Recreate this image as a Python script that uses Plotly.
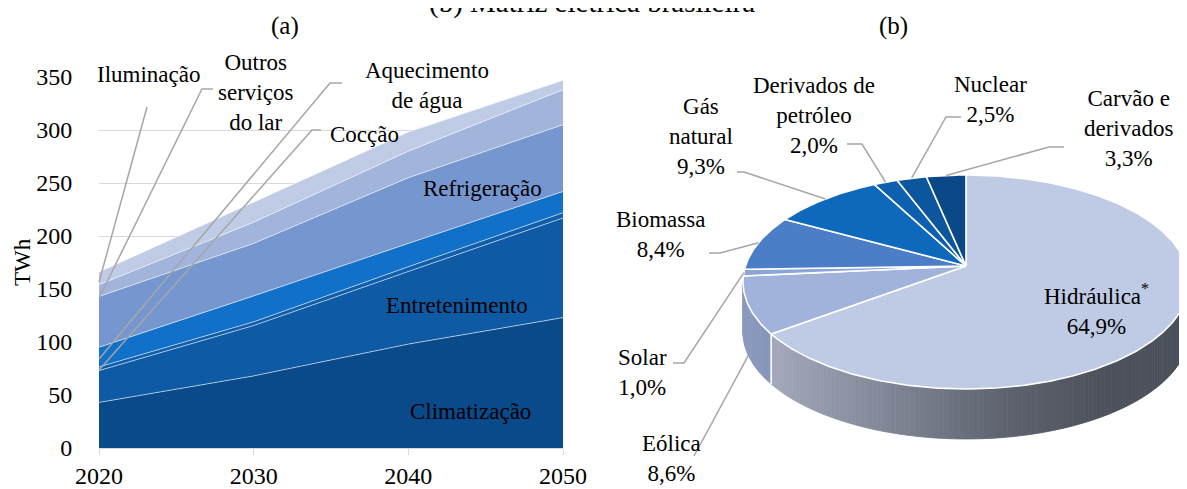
import numpy as np
import plotly.graph_objects as go

# ------------------------------------------------------------------ data
years = [2020, 2030, 2040, 2050]
climatizacao = [43, 68, 98, 123]
entretenimento = [30, 47.5, 68.5, 94]
coccao = [3.5, 3.5, 4.5, 5]
aquecimento_agua = [18.5, 24.5, 22, 20]
refrigeracao = [48, 49.5, 62, 63]
outros_servicos = [11, 20, 25, 33]
iluminacao = [12, 19, 18, 9]
y_ticks = [0, 50, 100, 150, 200, 250, 300, 350]

area_names = ["Climatização", "Entretenimento", "Cocção", "Aquecimento de água",
              "Refrigeração", "Outros serviços do lar", "Iluminação"]
area_series = [climatizacao, entretenimento, coccao, aquecimento_agua,
               refrigeracao, outros_servicos, iluminacao]

pie_names = ["Hidráulica", "Eólica", "Solar", "Biomassa", "Gás natural",
             "Derivados de petróleo", "Nuclear", "Carvão e derivados"]
pie_shares = [64.9, 8.6, 1.0, 8.4, 9.3, 2.0, 2.5, 3.3]
pie_label_lines = ["Hidráulica<sup>*</sup>", "Eólica", "Solar", "Biomassa", "Gás<br>natural",
                   "Derivados de<br>petróleo", "Nuclear", "Carvão e<br>derivados"]

# ------------------------------------------------------------------ style / layout
W, H = 1187, 489
OFF = 8                       # page body margin of the html page
FONT = "Liberation Serif"
FS = 23
GRID = "#d9d9d9"
LEADER = "#a6a6a6"

area_colors = ["#0A4A8A", "#0E5AA4", "#0F5EAC", "#1170C8", "#7696D0", "#A1B4DC", "#C0CCE6"]
pie_colors = ["#BFCBE4", "#A1B3DA", "#8CA5D8", "#4C7EC7", "#0E68BC", "#0D60B0", "#0C569E", "#0A4887"]

L0, L1, T0, B0 = 99, 563, 77, 448          # left plot area in screen px


def px(x):
    return (x - OFF) / W


def py(y):
    return 1 - (y - OFF) / H


fig = go.Figure()

# ------------------------------------------------------------------ (a) stacked area
for name, vals, col in zip(area_names, area_series, area_colors):
    fig.add_trace(go.Scatter(
        x=years, y=vals, name=name, stackgroup="uso", mode="lines",
        line=dict(color="rgba(255,255,255,0.75)", width=0.75),
        fillcolor=col, xaxis="x", yaxis="y", showlegend=False))

left_labels = [
    ("Iluminação", 148, 75),
    ("Outros<br>serviços<br>do lar", 255, 93),
    ("Aquecimento<br>de água", 427, 86),
    ("Cocção", 364, 134),
    ("Refrigeração", 482, 188),
    ("Entretenimento", 457, 305),
    ("Climatização", 470, 411),
]
left_leaders = [
    [(147, 107), (99, 282)],
    [(213, 89), (202, 89), (99, 298)],
    [(342, 83), (330, 83), (99, 359)],
    [(321, 130), (312, 130), (99, 370)],
]

# ------------------------------------------------------------------ (b) 3D pie
P_CX, P_CY, P_A, P_B, P_K, P_DEPTH = 966, 266, 220.5, 104.6, 0.1495, 50


def rim(alpha_deg, drop=0.0):
    a = np.radians(np.asarray(alpha_deg, dtype=float))
    u, v = np.sin(a), np.cos(a)
    s = 1.0 / (1.0 + P_K * v)
    return P_CX + P_A * u * s, P_CY - P_B * v * s + drop


total = float(sum(pie_shares))
bounds = np.concatenate([[0.0], np.cumsum(pie_shares) / total * 360.0])

side_nodes_t = [0.0, 0.36, 0.58, 0.8, 1.0]
side_nodes_c = {
    0: [(172, 178, 196), (125, 130, 146), (95, 100, 112), (78, 82, 92), (74, 79, 89)],
    1: [(138, 154, 190), (120, 134, 166), (100, 110, 135), (85, 92, 110), (80, 86, 100)],
}


def side_color(idx, x):
    t = min(max((x - 741) / (1187 - 741), 0), 1)
    nodes = side_nodes_c.get(idx, side_nodes_c[0])
    c = [np.interp(t, side_nodes_t, [n[k] for n in nodes]) for k in range(3)]
    return "rgb(%d,%d,%d)" % tuple(int(round(v)) for v in c)


sil0 = float(np.degrees(np.arccos(-P_K)))
sil1 = 360.0 - sil0
edges = list(np.linspace(sil0, sil1, 150))
edges += [b for b in bounds if sil0 < b < sil1]
edges = sorted(set(edges))
for a0, a1 in zip(edges[:-1], edges[1:]):
    mid = 0.5 * (a0 + a1)
    idx = int(np.searchsorted(bounds, mid) - 1)
    xt, yt = rim([a0, a1])
    xb, yb = rim([a1, a0], P_DEPTH)
    col = side_color(idx, float(np.mean(xt)))
    fig.add_trace(go.Scatter(
        x=list(xt) + list(xb) + [xt[0]], y=list(yt) + list(yb) + [yt[0]],
        fill="toself", fillcolor=col, mode="lines", line=dict(color=col, width=0.8),
        xaxis="x2", yaxis="y2", hoverinfo="skip", showlegend=False))

for b in bounds:
    if sil0 < b < sil1:
        x0, y0 = rim(b)
        x1, y1 = rim(b, P_DEPTH)
        fig.add_trace(go.Scatter(x=[x0, x1], y=[y0, y1], mode="lines",
                                 line=dict(color="white", width=1.6),
                                 xaxis="x2", yaxis="y2", hoverinfo="skip", showlegend=False))

for i, name in enumerate(pie_names):
    a0, a1 = bounds[i], bounds[i + 1]
    n = max(4, int((a1 - a0) * 1.5))
    xa, ya = rim(np.linspace(a0, a1, n))
    fig.add_trace(go.Scatter(
        x=[P_CX] + list(xa) + [P_CX], y=[P_CY] + list(ya) + [P_CY],
        fill="toself", fillcolor=pie_colors[i], mode="lines",
        line=dict(color="white", width=1.6), name=name,
        text="%s: %s%%" % (name, f"{pie_shares[i]:.1f}".replace(".", ",")),
        hoverinfo="text", xaxis="x2", yaxis="y2", showlegend=False))

pie_label_pos = {
    "Hidráulica": (1096, 309), "Eólica": (671, 458), "Solar": (642, 372),
    "Biomassa": (660, 234), "Gás natural": (701, 136),
    "Derivados de petróleo": (814, 115), "Nuclear": (990, 99),
    "Carvão e derivados": (1128, 128),
}
pie_leader_start = {
    "Eólica": [(694, 456)], "Solar": [(673, 363), (684, 363)],
    "Biomassa": [(709, 253), (720, 253)], "Gás natural": [(737, 172), (744, 172)],
    "Derivados de petróleo": [(847, 144), (862, 144)],
    "Nuclear": [(961, 117), (946, 117)], "Carvão e derivados": [(1064, 147), (1049, 147)],
}

shapes = []
annotations = []

for pts in left_leaders:
    path = "M " + " L ".join("%.4f,%.4f" % (px(x), py(y)) for x, y in pts)
    shapes.append(dict(type="path", xref="paper", yref="paper", path=path,
                       line=dict(color=LEADER, width=1.5), layer="above"))

for i, name in enumerate(pie_names):
    if name not in pie_leader_start:
        continue
    mid = 0.5 * (bounds[i] + bounds[i + 1])
    drop = P_DEPTH if sil0 < mid < sil1 else 0.0
    ex, ey = rim(mid, drop)
    pts = pie_leader_start[name] + [(float(ex), float(ey))]
    path = "M " + " L ".join("%.2f,%.2f" % p for p in pts)
    shapes.append(dict(type="path", xref="x2", yref="y2", path=path,
                       line=dict(color=LEADER, width=1.5), layer="above"))

for text, x, y in left_labels:
    annotations.append(dict(text=text, x=px(x), y=py(y), xref="paper", yref="paper",
                            xanchor="center", yanchor="middle", showarrow=False,
                            font=dict(family=FONT, size=FS, color="black")))

for i, name in enumerate(pie_names):
    x, y = pie_label_pos[name]
    pct = f"{pie_shares[i]:.1f}".replace(".", ",") + "%"
    annotations.append(dict(text=pie_label_lines[i] + "<br>" + pct, x=x, y=y,
                            xref="x2", yref="y2", xanchor="center", yanchor="middle",
                            showarrow=False, font=dict(family=FONT, size=FS, color="black")))

annotations += [
    dict(text="(b) Matriz elétrica brasileira", x=px(592), y=py(2), xref="paper", yref="paper",
         xanchor="center", yanchor="middle", showarrow=False,
         font=dict(family=FONT, size=29, color="black")),
    dict(text="(a)", x=px(285), y=py(26), xref="paper", yref="paper", xanchor="center",
         yanchor="middle", showarrow=False, font=dict(family=FONT, size=25, color="black")),
    dict(text="(b)", x=px(893), y=py(26), xref="paper", yref="paper", xanchor="center",
         yanchor="middle", showarrow=False, font=dict(family=FONT, size=25, color="black")),
    dict(text="TWh", x=px(22), y=py(262), xref="paper", yref="paper", xanchor="center",
         yanchor="middle", textangle=-90, showarrow=False,
         font=dict(family=FONT, size=FS, color="black")),
]

fig.update_layout(
    width=W, height=H, margin=dict(l=0, r=0, t=0, b=0, autoexpand=False),
    paper_bgcolor="white", plot_bgcolor="rgba(0,0,0,0)",
    showlegend=False, font=dict(family=FONT, size=FS, color="black"),
    xaxis=dict(domain=[px(L0), px(L1)], range=[2020, 2050], tickvals=years,
               showline=True, linecolor=GRID, linewidth=1, ticks="outside", ticklen=6,
               tickcolor=GRID, showgrid=False, zeroline=False,
               tickfont=dict(family=FONT, size=24, color="black"), anchor="y"),
    yaxis=dict(domain=[py(B0), py(T0)], range=[0, 350], tickvals=y_ticks,
               showgrid=True, gridcolor=GRID, gridwidth=1, zeroline=False,
               ticks="outside", ticklen=21, tickcolor="rgba(0,0,0,0)",
               tickfont=dict(family=FONT, size=24, color="black"), anchor="x"),
    xaxis2=dict(domain=[px(600), 1], range=[600, W + OFF], visible=False, anchor="y2"),
    yaxis2=dict(domain=[0, 1], range=[H + OFF, OFF], visible=False, anchor="x2"),
    shapes=shapes, annotations=annotations,
)

fig.write_html("out.html")
